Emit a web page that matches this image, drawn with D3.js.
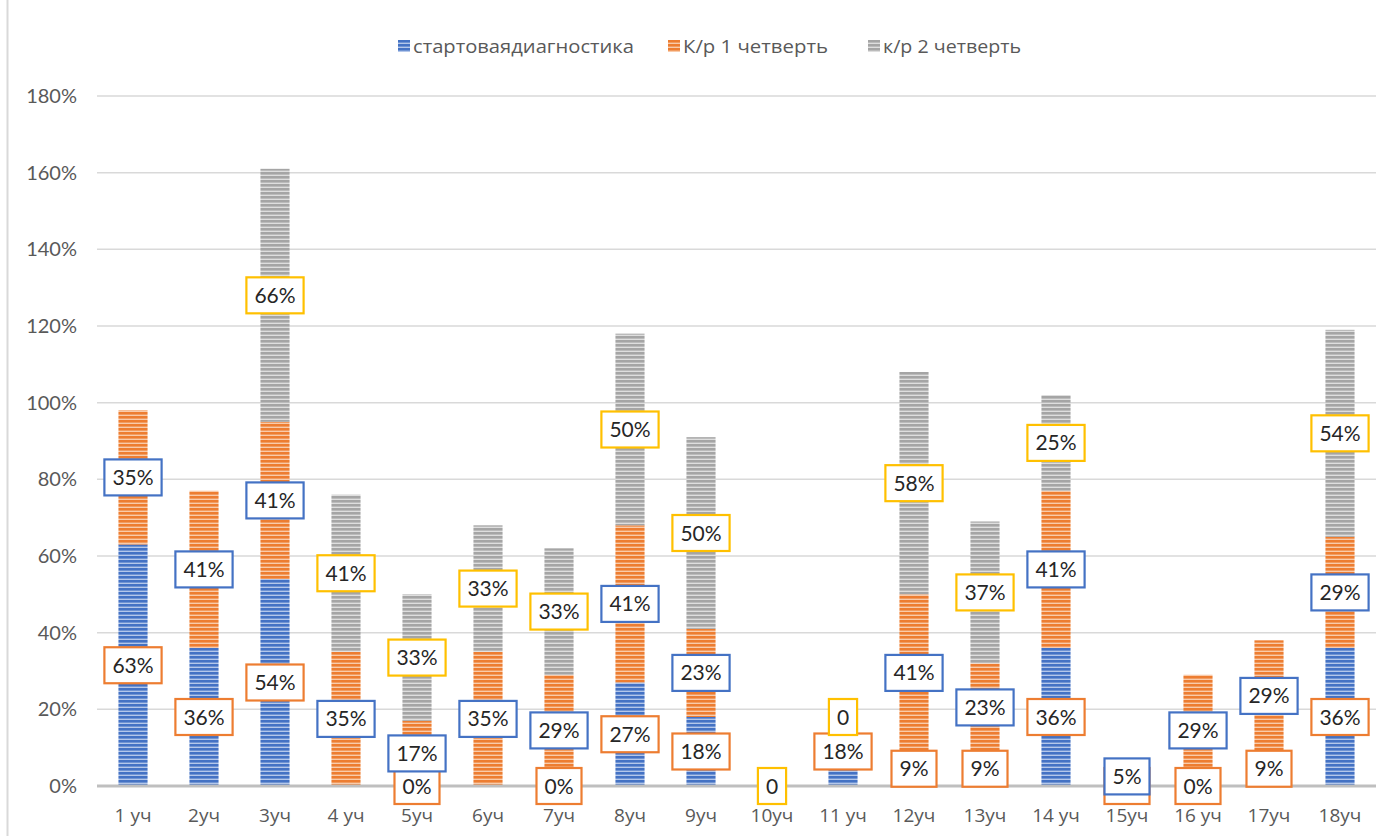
<!DOCTYPE html>
<html>
<head>
<meta charset="utf-8">
<script src="https://cdn.jsdelivr.net/npm/d3@7/dist/d3.min.js"></script>
<style>
  html, body { margin: 0; padding: 0; background: #fff; }
  svg { display: block; font-family: Lato, "Open Sans", sans-serif; }
</style>
</head>
<body>
<svg id="chart" width="1400" height="836"></svg>
<script>
// Sections (x axis)
const categories = ["1 уч", "2уч", "3уч", "4 уч", "5уч", "6уч", "7уч", "8уч", "9уч",
  "10уч", "11 уч", "12уч", "13уч", "14 уч", "15уч", "16 уч", "17уч", "18уч"];

// Series names
const seriesNames = ["стартоваядиагностика", "К/р 1 четверть", "к/р 2 четверть"];

// Values in percent; null = no value for that section
const startDiag = [63, 36, 54, null, 0, null, 0, 27, 18, null, 18, 9, 9, 36, 0, 0, 9, 36];
const test1 = [35, 41, 41, 35, 17, 35, 29, 41, 23, null, null, 41, 23, 41, 5, 29, 29, 29];
const test2 = [null, null, 66, 41, 33, 33, 33, 50, 50, 0, 0, 58, 37, 25, null, null, null, 54];

// Y axis ticks
const yTicks = [0, 20, 40, 60, 80, 100, 120, 140, 160, 180];

const seriesValues = [startDiag, test1, test2];
const fillColors = ["#4472C4", "#ED7D31", "#A5A5A5"];
const lightColors = ["#B4C7EA", "#F9CBAA", "#DEDEDE"];
const labelBorders = ["#ED7D31", "#4472C4", "#FFC000"];
const cyr = "'Open Sans', 'Noto Sans', sans-serif";

const svg = d3.select("#chart");
const defs = svg.append("defs");

// Narrow horizontal stripe fill for each series
fillColors.forEach((c, i) => {
  const p = defs.append("pattern")
    .attr("id", "stripe" + i)
    .attr("patternUnits", "userSpaceOnUse")
    .attr("width", 8).attr("height", 4);
  p.append("rect").attr("width", 8).attr("height", 4).attr("fill", lightColors[i]);
  p.append("rect").attr("width", 8).attr("height", 2.6).attr("fill", c);
});

// Outer frame edge on the left
svg.append("line")
  .attr("x1", 7.5).attr("x2", 7.5).attr("y1", 0).attr("y2", 836)
  .attr("stroke", "#D9D9D9").attr("stroke-width", 2);

const x = d3.scaleBand()
  .domain(categories)
  .range([97.5, 1375.5])
  .paddingInner(0.59)
  .paddingOuter(0.295);

const y = d3.scaleLinear().domain([0, 180]).range([786, 96]);

// Gridlines
svg.append("g").selectAll("line")
  .data(yTicks.filter(t => t !== 0))
  .join("line")
  .attr("x1", 97).attr("x2", 1376)
  .attr("y1", d => y(d)).attr("y2", d => y(d))
  .attr("stroke", "#D9D9D9").attr("stroke-width", 1.5);

// Y axis labels
const yAxis = d3.axisLeft(y).tickValues(yTicks).tickFormat(d => d + "%").tickSize(0).tickPadding(0);
const gy = svg.append("g").attr("transform", "translate(77,0)").call(yAxis);
gy.select(".domain").remove();
gy.selectAll("text").attr("font-size", 20).attr("fill", "#595959")
  .attr("font-family", "Lato, sans-serif");

// Stacked data
const rows = categories.map((c, i) => {
  const r = { cat: c };
  seriesNames.forEach((s, k) => { r[s] = seriesValues[k][i]; });
  return r;
});
const stacked = d3.stack()
  .keys(seriesNames)
  .value((d, key) => d[key] == null ? 0 : d[key])(rows);

// Bars
stacked.forEach((layer, k) => {
  svg.append("g").selectAll("rect")
    .data(layer.filter(d => d.data[seriesNames[k]] != null && d.data[seriesNames[k]] > 0))
    .join("rect")
    .attr("x", d => x(d.data.cat))
    .attr("width", x.bandwidth())
    .attr("y", d => y(d[1]))
    .attr("height", d => y(d[0]) - y(d[1]))
    .attr("fill", "url(#stripe" + k + ")");
});

// Zero axis line
svg.append("line")
  .attr("x1", 97).attr("x2", 1376).attr("y1", y(0)).attr("y2", y(0))
  .attr("stroke", "#BFBFBF").attr("stroke-width", 3);

// X axis labels
const xAxis = d3.axisBottom(x).tickSize(0).tickPadding(0);
const gx = svg.append("g").attr("transform", "translate(0,815)").call(xAxis);
gx.select(".domain").remove();
gx.selectAll("text").attr("font-size", 19).attr("fill", "#595959")
  .attr("font-family", cyr).attr("dy", "0.35em");

// Data labels, drawn series by series
const fmt = (v, k) => (k === 2 && v === 0) ? "0" : v + "%";
stacked.forEach((layer, k) => {
  const items = layer.filter(d => d.data[seriesNames[k]] != null);
  const g = svg.append("g").selectAll("g")
    .data(items)
    .join("g")
    .attr("transform", d => `translate(${x(d.data.cat) + x.bandwidth() / 2},${y((d[0] + d[1]) / 2)})`);
  g.append("rect").attr("fill", "#fff")
    .attr("stroke", labelBorders[k]).attr("stroke-width", 2.2);
  const txt = g.append("text")
    .attr("text-anchor", "middle").attr("dy", "0.36em")
    .attr("font-size", 21).attr("fill", "#262626")
    .text(d => fmt(d.data[seriesNames[k]], k));
  txt.each(function () {
    const w = this.getComputedTextLength() + 16;
    d3.select(this.parentNode).select("rect")
      .attr("x", -w / 2).attr("y", -18).attr("width", w).attr("height", 36);
  });
});

// Legend
const legendX = [398, 668, 868];
const legendW = [221, 145, 138];
const lg = svg.append("g").selectAll("g")
  .data(seriesNames)
  .join("g")
  .attr("transform", (d, i) => `translate(${legendX[i]},0)`);
lg.append("rect").attr("x", 0).attr("y", 40).attr("width", 12).attr("height", 12)
  .attr("fill", (d, i) => "url(#stripe" + i + ")");
lg.append("text").attr("x", 15).attr("y", 46).attr("dy", "0.36em")
  .attr("font-family", cyr)
  .attr("font-size", 19).attr("fill", "#595959")
  .attr("textLength", (d, i) => legendW[i])
  .attr("lengthAdjust", "spacingAndGlyphs")
  .text(d => d);
</script>
</body>
</html>
